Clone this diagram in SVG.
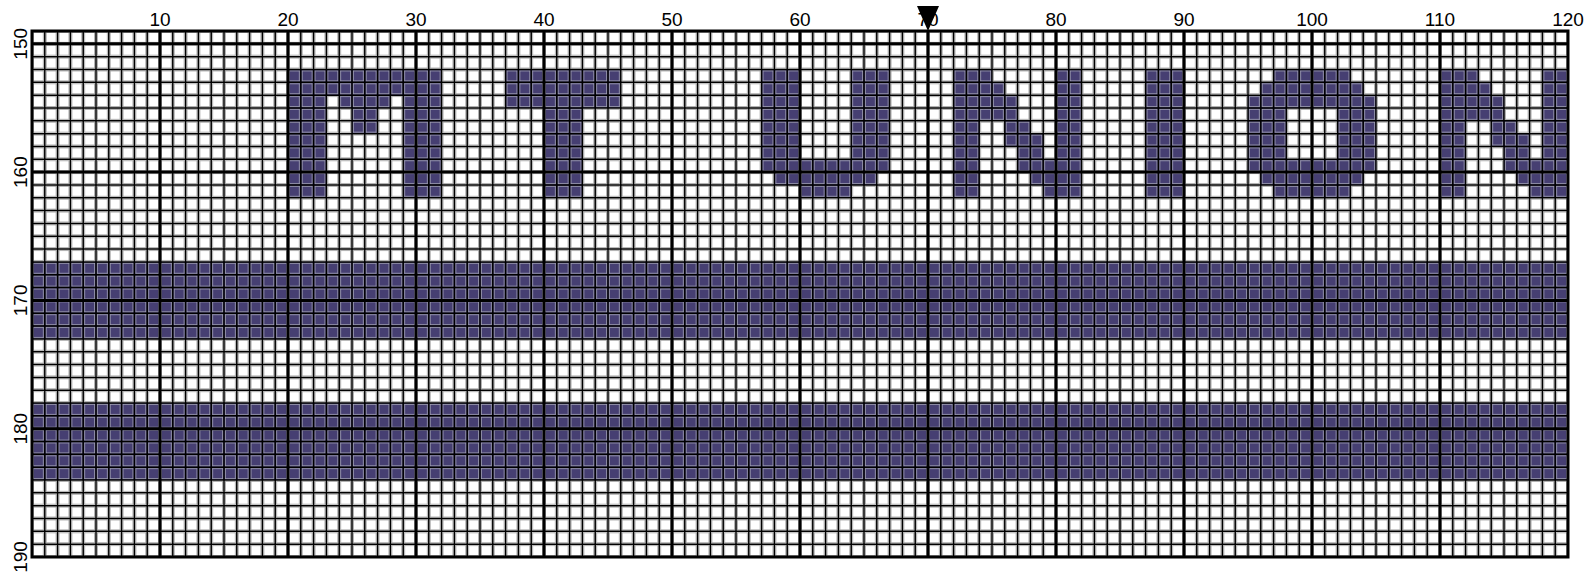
<svg xmlns="http://www.w3.org/2000/svg" width="1593" height="577" viewBox="0 0 1593 577">
<style>
.lbl{font-family:"Liberation Sans",Arial,sans-serif;font-size:19px;fill:#000;text-anchor:middle}
.thin{fill:none;stroke:#000;stroke-width:1.5}
.thick{fill:none;stroke:#000;stroke-width:3;stroke-linecap:square}
.p{fill:url(#pc)}
</style>
<defs>
<pattern id="wc" patternUnits="userSpaceOnUse" x="0" y="0" width="1" height="1">
<rect width="1" height="1" fill="#fff"/>
<rect x="0.1" y="0.1" width="0.8" height="0.8" fill="none" stroke="#a0a0a0" stroke-width="0.08"/>
</pattern>
<pattern id="pc" patternUnits="userSpaceOnUse" x="0" y="0" width="1" height="1">
<rect width="1" height="1" fill="#463f72"/>
<rect x="0.1" y="0.1" width="0.8" height="0.8" fill="none" stroke="#a3a3b3" stroke-width="0.07"/>
</pattern>
</defs>
<rect width="1593" height="577" fill="#fff"/>
<g id="chart" transform="translate(32,31) scale(12.8,12.829)">
<rect id="background" x="0" y="0" width="120" height="41" fill="url(#wc)"/>
<g id="stripes">
<rect class="p" x="0" y="18" width="120" height="6"/>
<rect class="p" x="0" y="29" width="120" height="6"/>
</g>
<g id="letter-M">
<rect class="p" x="20" y="3" width="12" height="2"/>
<rect class="p" x="20" y="5" width="3" height="8"/>
<rect class="p" x="29" y="5" width="3" height="8"/>
<rect class="p" x="24" y="5" width="4" height="1"/>
<rect class="p" x="25" y="6" width="2" height="2"/>
</g>
<g id="letter-T">
<rect class="p" x="37" y="3" width="9" height="3"/>
<rect class="p" x="40" y="6" width="3" height="7"/>
</g>
<g id="letter-U">
<rect class="p" x="57" y="3" width="3" height="8"/>
<rect class="p" x="64" y="3" width="3" height="8"/>
<rect class="p" x="60" y="10" width="4" height="1"/>
<rect class="p" x="58" y="11" width="8" height="1"/>
<rect class="p" x="60" y="12" width="4" height="1"/>
</g>
<g id="letter-N1">
<rect class="p" x="72" y="3" width="2" height="10"/>
<rect class="p" x="80" y="3" width="2" height="10"/>
<rect class="p" x="74" y="3" width="1" height="4"/>
<rect class="p" x="75" y="4" width="1" height="3"/>
<rect class="p" x="76" y="5" width="1" height="4"/>
<rect class="p" x="77" y="7" width="1" height="4"/>
<rect class="p" x="78" y="8" width="1" height="4"/>
<rect class="p" x="79" y="10" width="1" height="3"/>
</g>
<g id="letter-I">
<rect class="p" x="87" y="3" width="3" height="10"/>
</g>
<g id="letter-O">
<rect class="p" x="97" y="3" width="6" height="1"/>
<rect class="p" x="96" y="4" width="8" height="1"/>
<rect class="p" x="95" y="5" width="3" height="6"/>
<rect class="p" x="102" y="5" width="3" height="6"/>
<rect class="p" x="98" y="5" width="4" height="1"/>
<rect class="p" x="98" y="10" width="4" height="1"/>
<rect class="p" x="96" y="11" width="8" height="1"/>
<rect class="p" x="97" y="12" width="6" height="1"/>
</g>
<g id="letter-N2">
<rect class="p" x="110" y="3" width="2" height="10"/>
<rect class="p" x="118" y="3" width="2" height="10"/>
<rect class="p" x="112" y="3" width="1" height="4"/>
<rect class="p" x="113" y="4" width="1" height="3"/>
<rect class="p" x="114" y="5" width="1" height="4"/>
<rect class="p" x="115" y="7" width="1" height="4"/>
<rect class="p" x="116" y="8" width="1" height="4"/>
<rect class="p" x="117" y="10" width="1" height="3"/>
</g>
<g id="grid-lines">
<path class="thin" vector-effect="non-scaling-stroke" d="M1 0V41M2 0V41M3 0V41M4 0V41M5 0V41M6 0V41M7 0V41M8 0V41M9 0V41M11 0V41M12 0V41M13 0V41M14 0V41M15 0V41M16 0V41M17 0V41M18 0V41M19 0V41M21 0V41M22 0V41M23 0V41M24 0V41M25 0V41M26 0V41M27 0V41M28 0V41M29 0V41M31 0V41M32 0V41M33 0V41M34 0V41M35 0V41M36 0V41M37 0V41M38 0V41M39 0V41M41 0V41M42 0V41M43 0V41M44 0V41M45 0V41M46 0V41M47 0V41M48 0V41M49 0V41M51 0V41M52 0V41M53 0V41M54 0V41M55 0V41M56 0V41M57 0V41M58 0V41M59 0V41M61 0V41M62 0V41M63 0V41M64 0V41M65 0V41M66 0V41M67 0V41M68 0V41M69 0V41M71 0V41M72 0V41M73 0V41M74 0V41M75 0V41M76 0V41M77 0V41M78 0V41M79 0V41M81 0V41M82 0V41M83 0V41M84 0V41M85 0V41M86 0V41M87 0V41M88 0V41M89 0V41M91 0V41M92 0V41M93 0V41M94 0V41M95 0V41M96 0V41M97 0V41M98 0V41M99 0V41M101 0V41M102 0V41M103 0V41M104 0V41M105 0V41M106 0V41M107 0V41M108 0V41M109 0V41M111 0V41M112 0V41M113 0V41M114 0V41M115 0V41M116 0V41M117 0V41M118 0V41M119 0V41M0 2H120M0 3H120M0 4H120M0 5H120M0 6H120M0 7H120M0 8H120M0 9H120M0 10H120M0 12H120M0 13H120M0 14H120M0 15H120M0 16H120M0 17H120M0 18H120M0 19H120M0 20H120M0 22H120M0 23H120M0 24H120M0 25H120M0 26H120M0 27H120M0 28H120M0 29H120M0 30H120M0 32H120M0 33H120M0 34H120M0 35H120M0 36H120M0 37H120M0 38H120M0 39H120M0 40H120"/>
<path class="thick" vector-effect="non-scaling-stroke" d="M0 0V41M10 0V41M20 0V41M30 0V41M40 0V41M50 0V41M60 0V41M70 0V41M80 0V41M90 0V41M100 0V41M110 0V41M120 0V41M0 0H120M0 1H120M0 11H120M0 21H120M0 31H120M0 41H120"/>
</g>
</g>
<g id="column-labels">
<text class="lbl" x="160" y="26">10</text>
<text class="lbl" x="288" y="26">20</text>
<text class="lbl" x="416" y="26">30</text>
<text class="lbl" x="544" y="26">40</text>
<text class="lbl" x="672" y="26">50</text>
<text class="lbl" x="800" y="26">60</text>
<text class="lbl" x="928" y="26">70</text>
<text class="lbl" x="1056" y="26">80</text>
<text class="lbl" x="1184" y="26">90</text>
<text class="lbl" x="1312" y="26">100</text>
<text class="lbl" x="1440" y="26">110</text>
<text class="lbl" x="1568" y="26">120</text>
</g>
<g id="row-labels">
<text class="lbl" transform="translate(27,43.8) rotate(-90)">150</text>
<text class="lbl" transform="translate(27,172.1) rotate(-90)">160</text>
<text class="lbl" transform="translate(27,300.4) rotate(-90)">170</text>
<text class="lbl" transform="translate(27,428.7) rotate(-90)">180</text>
<text class="lbl" transform="translate(27,557) rotate(-90)">190</text>
</g>
<g id="marker">
<polygon points="917,6 939,6 928,31" fill="#000"/>
</g>
</svg>
